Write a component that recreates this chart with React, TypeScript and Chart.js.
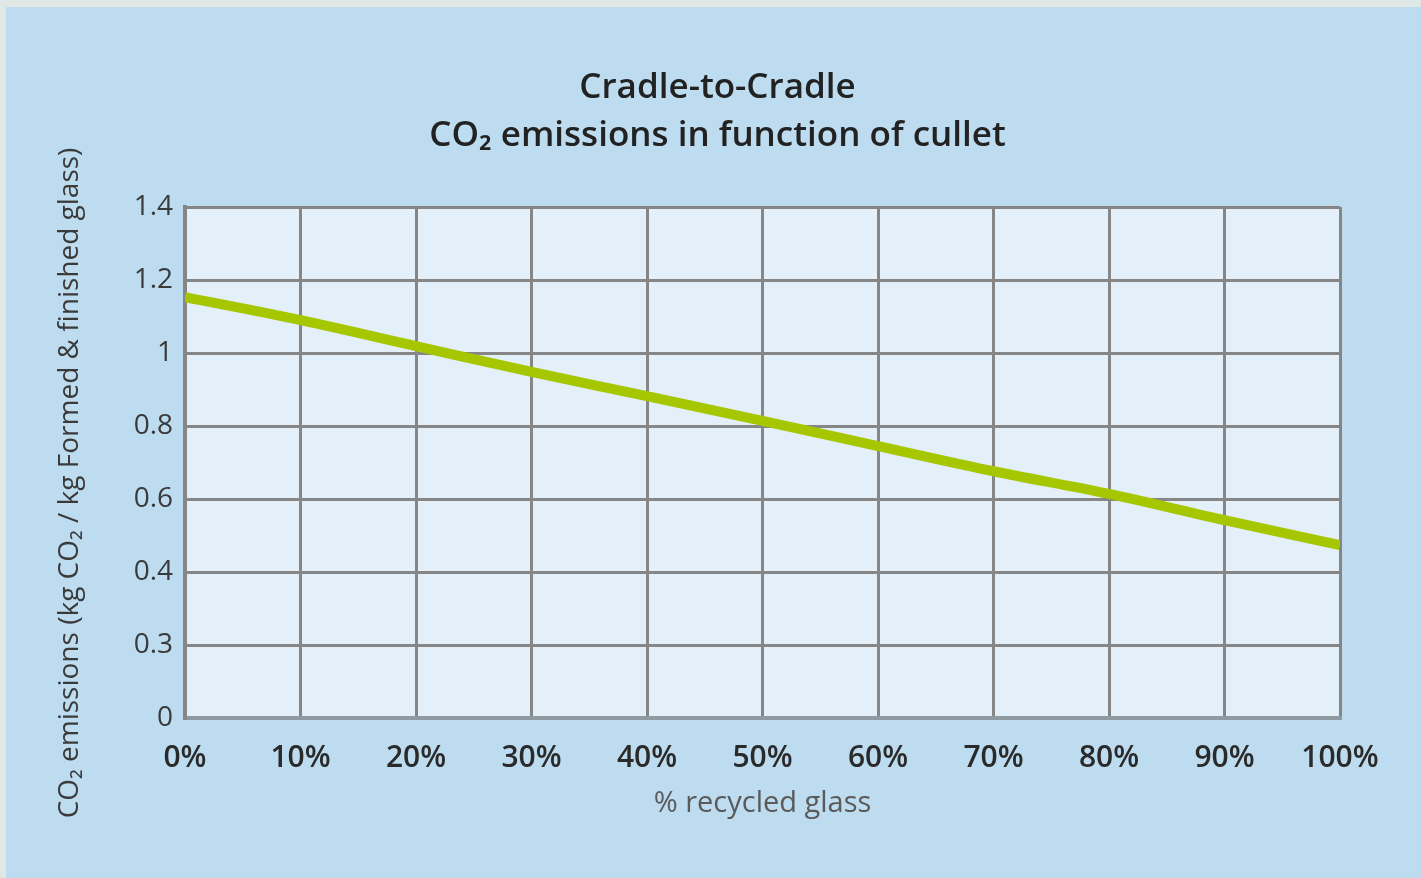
import React, { useEffect, useRef } from "react";
import { Chart, registerables } from "chart.js";

Chart.register(...registerables);

const categories = ["0%", "10%", "20%", "30%", "40%", "50%", "60%", "70%", "80%", "90%", "100%"];
const emissions = [1.153, 1.09, 1.019, 0.948, 0.882, 0.814, 0.745, 0.676, 0.614, 0.542, 0.474];
const yTickLabels = ["0", "0.3", "0.4", "0.6", "0.8", "1", "1.2", "1.4"];

const titleLines = ["Cradle-to-Cradle", "CO\u2082 emissions in function of cullet"];
const yTitle = "CO\u2082 emissions (kg CO\u2082 / kg Formed & finished glass)";
const xTitle = "% recycled glass";

const FONT = "'Open Sans', 'DejaVu Sans', sans-serif";

const plotBg = {
  id: "plotBg",
  beforeDraw(chart: any) {
    const { ctx, chartArea } = chart;
    if (!chartArea) return;
    ctx.save();
    ctx.fillStyle = "#e3f0fa";
    ctx.fillRect(chartArea.left, chartArea.top, chartArea.right - chartArea.left, chartArea.bottom - chartArea.top);
    ctx.restore();
  },
};

const textDecor = {
  id: "textDecor",
  afterDraw(chart: any) {
    const { ctx, width } = chart;
    ctx.save();
    ctx.fillStyle = "#222";
    ctx.textAlign = "center";
    ctx.textBaseline = "middle";
    ctx.font = `600 35px ${FONT}`;
    ctx.fillText(titleLines[0], width / 2 + 4, 81);
    ctx.fillText(titleLines[1], width / 2 + 4, 129);
    ctx.translate(64, 476);
    ctx.rotate(-Math.PI / 2);
    ctx.fillStyle = "#3a3a3a";
    ctx.font = `28px ${FONT}`;
    ctx.fillText(yTitle, 0, 0);
    ctx.restore();
  },
};

export default function App() {
  const ref = useRef<HTMLCanvasElement | null>(null);

  useEffect(() => {
    const prevMargin = document.body.style.margin;
    document.body.style.margin = "0";
    if (!ref.current) return;
    const chart = new Chart(ref.current, {
      type: "line",
      data: {
        labels: categories,
        datasets: [
          {
            data: emissions,
            borderColor: "#a6c600",
            borderWidth: 10,
            pointRadius: 0,
            tension: 0.4,
            cubicInterpolationMode: "monotone",
            clip: 0,
            fill: false,
          } as any,
        ],
      },
      options: {
        animation: false,
        responsive: false,
        maintainAspectRatio: false,
        layout: { padding: { left: 0, right: 81, top: 200, bottom: 0 } },
        plugins: {
          legend: { display: false },
          tooltip: { enabled: false },
          title: { display: false },
        },
        scales: {
          x: {
            type: "category",
            offset: false,
            grid: { color: "#868686", lineWidth: 3, drawTicks: false },
            border: { color: "#8e9aa2", width: 4 },
            ticks: {
              color: "#2a2a2a",
              font: { family: FONT, size: 30, weight: "600" },
              padding: 22,
              maxRotation: 0,
              autoSkip: false,
            },
            title: {
              display: true,
              text: xTitle,
              color: "#5a5a5a",
              font: { family: FONT, size: 29 },
              padding: { top: 0, bottom: 57 },
            },
            afterFit(scale: any) {
              scale.height = 160;
            },
          },
          y: {
            type: "linear",
            min: 0,
            max: 1.4,
            grid: { color: "#868686", lineWidth: 3, drawTicks: false },
            border: { color: "#868686", width: 4 },
            ticks: {
              stepSize: 0.2,
              color: "#3a3a3a",
              font: { family: FONT, size: 28 },
              padding: 12,
              callback: (_v: any, i: number) => yTickLabels[i],
            },
            title: { display: false },
            afterFit(scale: any) {
              scale.width = 179;
            },
          },
        },
      } as any,
      plugins: [plotBg, textDecor],
    });
    return () => {
      chart.destroy();
      document.body.style.margin = prevMargin;
    };
  }, []);

  return (
    <div style={{ position: "absolute", left: 0, top: 0, width: 1421, height: 878, background: "#e0e8e5", overflow: "hidden" }}>
      <div style={{ position: "absolute", left: 6, top: 7, width: 1415, height: 871, background: "#bddcf0" }}>
        <canvas ref={ref} width={1415} height={871} style={{ display: "block", width: 1415, height: 871 }} />
      </div>
    </div>
  );
}
